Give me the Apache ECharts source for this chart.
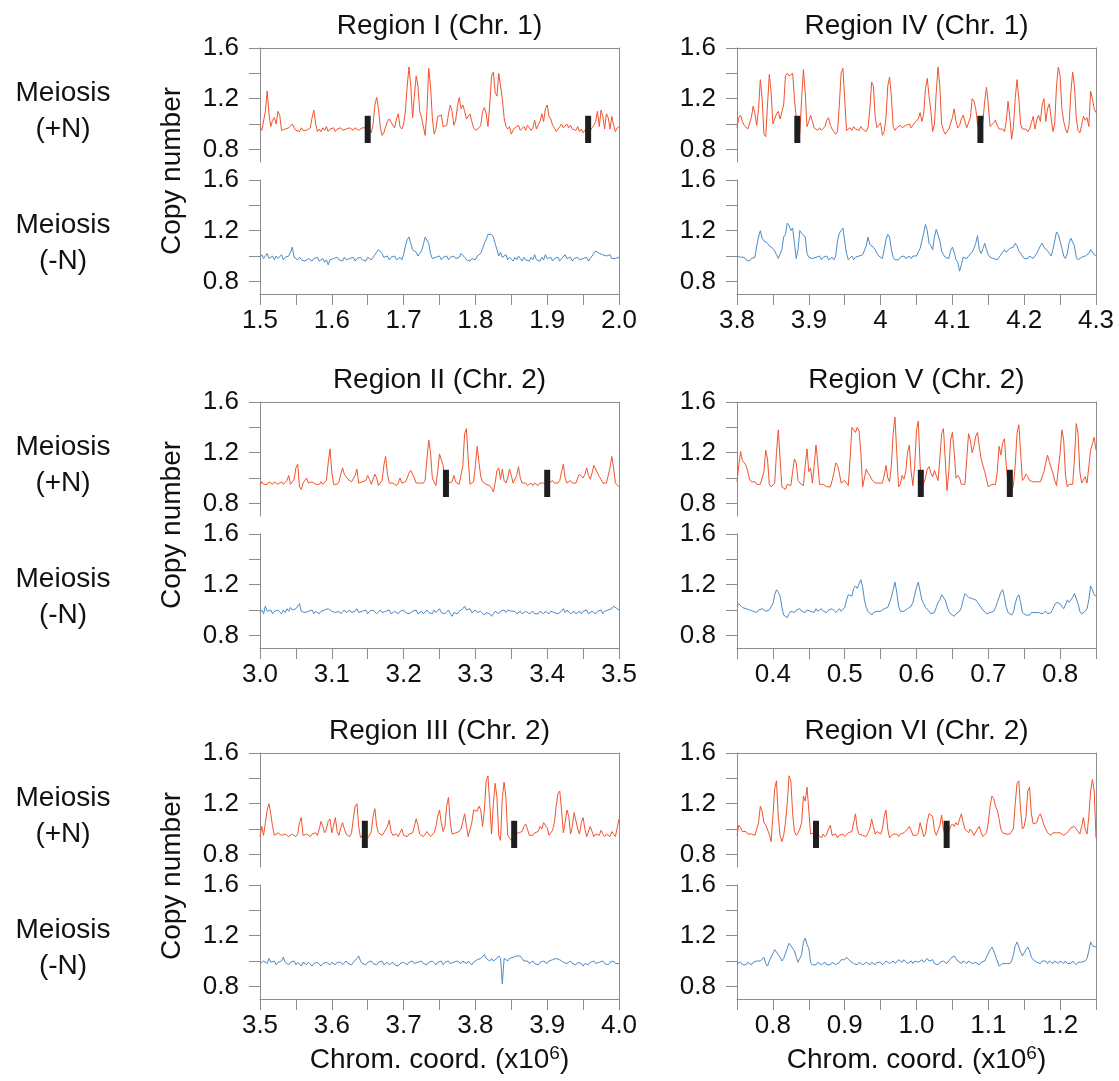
<!DOCTYPE html>
<html>
<head>
<meta charset="utf-8">
<title>Copy number</title>
<script src="https://cdn.jsdelivr.net/npm/echarts@6/dist/echarts.min.js"></script>
<style>
html, body { margin: 0; padding: 0; background: #fff; }
#chart { width: 1119px; height: 1081px; }
</style>
</head>
<body>
<div id="chart"></div>
<script>
// ---- data ----
var regionTitles = ['Region I (Chr. 1)', 'Region II (Chr. 2)', 'Region III (Chr. 2)',
                    'Region IV (Chr. 1)', 'Region V (Chr. 2)', 'Region VI (Chr. 2)'];
var regionStart = [1.5, 3.0, 3.5, 3.8, 0.35, 0.75];
var regionEnd   = [2.0, 3.5, 4.0, 4.3, 0.85, 1.25];
var xTickLabels = [
  ['1.5', '1.6', '1.7', '1.8', '1.9', '2.0'],
  ['3.0', '3.1', '3.2', '3.3', '3.4', '3.5'],
  ['3.5', '3.6', '3.7', '3.8', '3.9', '4.0'],
  ['3.8', '3.9', '4', '4.1', '4.2', '4.3'],
  ['0.4', '0.5', '0.6', '0.7', '0.8'],
  ['0.8', '0.9', '1.0', '1.1', '1.2']
];
var yTickLabels = ['0.8', '1.2', '1.6'];
var yTickValues = [0.8, 1.0, 1.2, 1.4, 1.6];
// black bars on the +N traces (x position, bottom, top)
var markerX = [[1.650, 1.957], [3.259, 3.400], [3.646, 3.854], [3.884, 4.139], [0.606, 0.730], [0.860, 1.042]];
var markerLow = 0.85, markerHigh = 1.065;

// Meiosis (+N), evenly spaced probes across each region
var plusN_I = [
0.98,0.95,0.96,1.10,1.26,1.08,0.98,1.03,1.05,1.00,
1.10,1.07,0.95,0.94,0.96,0.95,0.97,0.96,1.00,0.97,
0.95,0.96,0.94,0.97,0.95,0.96,0.95,0.94,0.97,1.05,
1.11,1.00,0.94,0.96,0.94,0.97,0.95,0.98,0.94,0.96,
0.95,0.97,0.94,0.96,0.95,0.97,0.95,0.94,0.96,0.95,
0.97,0.96,0.95,0.97,0.96,0.95,0.96,0.97,0.96,0.97,
0.98,0.96,0.93,1.00,1.15,1.21,1.12,0.98,0.91,0.93,
0.98,1.02,1.04,1.05,0.99,0.97,1.04,1.08,0.98,0.96,
1.00,1.10,1.30,1.45,1.30,1.05,1.22,1.38,1.30,1.10,
1.05,1.06,0.91,1.10,1.44,1.30,1.05,0.92,0.96,1.06,
1.07,1.07,0.98,0.97,0.99,1.08,1.15,1.10,0.99,1.03,
1.14,1.21,1.12,1.15,1.10,1.04,1.05,1.08,1.02,0.97,
0.95,0.94,0.97,0.99,1.10,1.13,1.08,0.98,1.15,1.38,
1.41,1.25,1.22,1.40,1.39,1.20,1.05,0.98,0.96,0.98,
0.92,0.95,0.97,0.96,0.99,0.95,0.96,0.98,0.95,0.99,
0.97,0.95,0.97,1.03,0.96,0.95,1.02,1.08,1.02,1.12,
1.15,1.06,1.04,0.99,0.97,0.94,0.96,0.98,1.00,0.97,
0.98,1.00,0.97,0.99,0.96,0.97,0.95,0.98,0.94,0.96,
0.93,0.95,0.93,0.94,0.95,0.97,0.99,1.02,1.10,0.98,
1.11,1.06,0.96,1.08,1.05,0.96,1.06,0.99,0.94,0.97,
0.98];
var plusN_II = [
0.94,0.97,0.95,0.96,0.95,0.97,0.96,0.95,0.97,0.96,
0.95,0.96,0.97,0.95,0.96,0.98,1.02,0.95,0.96,0.99,
1.08,1.11,0.93,0.91,0.96,0.95,1.00,0.96,0.95,0.97,
0.96,0.95,0.96,0.95,0.97,0.95,0.96,0.98,1.12,1.23,
1.05,0.95,0.96,0.95,0.97,1.03,1.08,1.03,1.02,0.99,
1.00,0.97,0.96,1.02,1.07,0.96,0.95,0.97,0.96,0.98,
1.02,0.99,0.95,0.96,1.03,1.00,0.94,0.96,0.98,1.10,
1.17,1.03,0.96,0.95,0.96,0.95,0.94,0.96,1.00,0.96,
0.95,0.97,1.00,1.04,1.06,1.07,1.00,0.96,0.95,0.96,
0.95,0.96,0.98,1.15,1.30,1.20,1.00,0.97,0.94,1.05,
1.19,1.20,1.10,0.96,0.95,0.96,0.95,0.97,1.02,0.97,
0.96,0.95,0.96,1.10,1.35,1.39,1.15,0.95,0.94,0.97,
1.10,1.25,1.12,1.01,0.97,0.96,0.95,0.96,0.94,0.92,
0.89,0.96,1.06,1.08,0.99,1.07,0.98,0.96,1.00,1.07,
1.02,0.96,0.95,1.02,1.09,1.00,0.96,0.95,0.96,0.94,
0.95,0.96,0.94,0.96,0.95,0.94,0.96,0.95,0.96,0.95,
0.94,0.96,0.97,0.98,0.96,0.95,0.96,0.98,1.05,1.11,
1.00,0.96,0.97,0.98,0.96,0.97,0.96,1.00,1.03,1.04,
1.00,1.03,1.08,1.02,0.99,1.04,1.10,1.11,1.04,1.01,
0.99,0.96,0.95,0.96,0.97,1.08,1.17,1.08,0.96,0.95,
0.93];
var plusN_III = [
0.94,1.02,0.95,1.05,1.15,1.20,1.12,1.02,0.95,0.94,
0.97,0.96,0.95,0.94,0.96,0.95,0.94,0.95,0.96,0.95,
0.94,0.96,1.05,1.09,0.95,0.94,0.96,0.95,0.94,0.96,
0.95,0.97,0.95,1.00,1.06,1.02,0.97,1.00,1.06,1.08,
0.97,1.03,1.09,0.98,0.95,1.01,1.05,1.00,0.96,0.95,
0.94,0.97,1.08,1.18,1.20,1.02,0.93,0.95,0.94,0.96,
0.93,0.95,0.98,1.10,1.16,1.02,0.97,0.96,0.95,0.97,
0.96,1.02,1.07,0.98,0.95,0.94,0.96,0.94,0.97,1.00,
0.95,0.96,0.94,0.96,0.95,0.97,1.02,1.08,1.03,0.96,
0.95,0.94,0.96,0.98,0.97,0.94,0.95,0.97,1.02,1.10,
1.15,1.05,0.98,1.02,1.18,1.25,1.05,0.96,0.95,0.97,
0.96,0.98,1.00,1.06,1.12,1.02,0.94,0.95,1.05,1.15,
1.16,1.14,1.18,1.15,1.02,1.15,1.38,1.42,1.20,0.96,
1.20,1.36,1.25,0.95,0.91,1.25,1.37,1.25,0.95,0.93,
0.91,0.93,0.96,0.95,0.97,0.96,0.98,1.02,1.04,1.00,
0.95,0.96,0.95,0.97,0.96,0.98,1.02,1.00,1.05,1.06,
1.01,0.95,0.97,0.99,1.05,1.18,1.28,1.30,1.15,0.97,
1.05,1.15,1.10,0.96,1.02,1.13,1.14,1.00,0.96,1.05,
1.09,1.00,0.94,0.95,1.02,0.98,0.94,0.96,0.97,0.95,
0.99,0.96,0.94,0.96,0.95,0.94,0.98,0.99,0.94,0.95,
1.08];
var plusN_IV = [
0.97,1.05,1.07,1.02,0.99,0.98,0.96,0.97,1.05,1.14,
1.08,0.99,1.12,1.35,1.20,0.92,0.90,1.15,1.39,1.25,
1.00,0.99,1.08,1.10,1.04,1.03,1.15,1.38,1.40,1.38,
1.39,1.40,1.20,1.05,0.95,0.92,1.20,1.43,1.25,0.98,
1.02,1.07,1.02,0.97,0.96,0.95,0.97,0.95,0.96,0.98,
1.03,1.05,0.99,0.96,0.94,0.92,0.94,1.15,1.40,1.44,
1.20,0.95,0.96,0.97,0.95,0.98,0.96,0.97,0.95,0.98,
0.96,0.95,0.94,0.97,1.12,1.33,1.30,1.05,0.97,0.99,
1.01,0.91,0.94,1.05,1.30,1.37,1.22,0.98,0.95,0.97,
0.98,0.99,0.97,0.98,0.99,0.98,1.00,0.97,0.99,1.01,
1.00,1.04,1.09,1.02,1.08,1.28,1.36,1.22,1.10,0.94,
1.00,1.25,1.45,1.30,1.00,0.95,0.92,0.94,0.96,0.95,
1.05,1.12,1.02,0.97,0.99,1.04,1.07,1.02,0.97,0.96,
1.05,1.20,1.18,1.12,1.00,0.96,0.95,1.02,1.18,1.29,
1.15,0.98,0.97,1.01,1.03,0.99,0.96,0.95,0.96,0.94,
1.02,1.18,1.05,0.88,0.98,1.20,1.35,1.20,1.00,0.96,
0.95,0.96,0.94,0.96,1.01,1.06,0.96,1.03,1.07,1.02,
1.15,1.20,1.02,1.12,1.16,1.05,0.94,1.00,1.30,1.45,
1.38,1.12,1.02,0.96,0.93,0.99,1.25,1.41,1.30,1.05,
0.95,0.93,0.99,1.06,1.03,1.05,0.98,1.26,1.20,1.12,
1.09];
var plusN_V = [
0.97,1.10,1.21,1.14,1.12,1.10,1.05,0.99,0.97,0.96,
0.97,0.95,0.94,0.95,0.94,1.05,1.22,1.15,0.95,0.93,
0.94,0.96,1.20,1.38,1.15,0.93,0.94,0.91,0.95,0.96,
0.94,1.05,1.15,1.12,0.98,0.96,0.95,0.94,1.10,1.23,
1.05,1.08,0.96,1.10,1.26,1.12,0.95,0.94,0.95,0.94,
0.93,0.94,0.93,0.98,1.04,1.12,1.10,1.04,0.96,0.95,
0.98,0.96,0.94,1.15,1.40,1.38,1.36,1.40,1.37,1.20,
0.93,1.00,1.07,1.04,1.02,0.99,0.98,0.96,0.97,0.96,
0.95,0.96,1.02,1.10,1.00,0.97,1.10,1.35,1.48,1.20,
0.93,0.95,1.02,0.99,1.05,1.20,1.26,1.05,0.94,1.10,
1.38,1.45,1.10,0.93,0.96,1.00,1.07,1.09,1.04,1.01,
1.06,1.02,0.98,1.15,1.35,1.39,1.15,0.90,1.05,1.30,
1.36,1.20,1.00,1.02,1.00,0.95,0.96,0.95,1.15,1.35,
1.30,1.20,1.25,1.33,1.36,1.25,1.15,1.10,1.05,0.99,
0.93,0.92,0.95,0.94,0.95,1.05,1.25,1.18,1.28,1.31,
1.10,0.96,0.93,0.90,0.94,1.10,1.35,1.42,1.20,0.98,
1.00,1.03,1.01,0.98,0.99,0.97,0.98,0.97,0.96,0.97,
0.98,1.05,1.12,1.18,1.13,1.08,1.04,0.98,0.94,0.95,
1.20,1.38,1.30,1.02,0.93,0.95,0.96,0.95,1.15,1.43,
1.35,1.05,0.96,0.97,1.01,0.96,0.95,1.22,1.27,1.32,
1.22];
var plusN_VI = [
0.95,1.03,1.01,0.98,0.97,0.98,0.96,0.97,0.96,0.97,
0.95,0.96,1.05,1.18,1.14,1.05,1.03,1.04,0.96,0.90,
1.10,1.32,1.38,1.10,0.95,0.90,0.95,1.05,1.20,1.42,
1.38,1.12,0.98,0.95,0.97,1.00,1.05,1.26,1.22,1.33,
1.15,0.96,0.95,0.97,0.94,0.96,0.95,0.93,0.96,0.94,
0.96,1.00,1.03,0.95,0.94,0.96,0.93,0.95,0.94,0.96,
0.94,0.95,0.97,0.96,0.98,1.05,1.12,1.00,0.96,0.97,
0.95,0.96,0.94,0.95,1.00,1.08,1.02,0.96,0.98,0.97,
0.96,1.00,1.10,1.15,1.00,0.93,0.94,0.96,0.95,0.96,
0.94,0.96,0.95,0.97,0.96,1.00,1.02,0.99,0.95,0.94,
0.95,0.97,1.05,1.00,0.94,0.96,1.06,1.12,1.11,1.10,
0.99,0.95,0.94,1.03,1.11,1.00,0.94,0.96,0.98,1.02,
1.04,1.02,1.05,1.03,1.08,1.12,1.05,1.00,0.99,0.97,
1.00,0.98,0.95,0.96,1.00,1.02,0.97,0.94,0.95,0.97,
1.05,1.18,1.26,1.24,1.18,1.15,1.08,1.00,0.97,0.98,
0.96,0.95,0.96,0.97,1.00,1.20,1.36,1.38,1.15,1.00,
1.02,1.10,1.30,1.33,1.12,1.04,1.03,1.05,1.10,1.12,
1.08,1.03,1.02,0.97,0.96,0.95,0.97,0.96,0.97,0.98,
0.97,0.96,0.95,0.96,0.97,0.99,1.01,1.00,1.02,1.00,
0.98,0.96,1.02,1.09,1.00,0.96,1.10,1.30,1.39,1.30,
0.93];

// Meiosis (-N)
var minusN_I = [
0.99,1.01,0.98,1.00,1.02,0.98,0.99,1.00,0.97,1.00,
0.98,0.99,1.01,0.97,0.99,0.98,1.00,1.03,1.07,0.99,
0.98,0.97,0.99,0.97,0.98,0.96,0.97,0.98,0.97,0.96,
0.98,0.97,0.99,0.96,0.97,0.98,0.95,0.97,0.93,0.97,
0.96,0.98,0.97,0.99,0.97,0.98,0.96,0.99,0.97,0.96,
0.98,0.97,0.99,0.96,0.98,0.97,0.99,0.97,0.98,0.96,
0.99,0.98,0.97,0.99,1.01,1.03,1.05,1.06,1.02,0.99,
0.98,1.00,0.97,0.99,0.98,1.00,0.97,0.98,0.99,0.97,
1.01,1.08,1.13,1.15,1.10,1.05,1.04,1.03,1.00,1.02,
1.04,1.09,1.15,1.16,1.10,1.02,0.98,0.97,0.99,0.98,
1.00,0.97,0.99,0.98,1.00,0.97,0.99,0.98,1.00,0.98,
0.97,0.99,1.02,1.01,0.99,0.97,0.98,0.96,0.98,0.99,
0.97,1.00,0.99,1.02,1.06,1.10,1.13,1.17,1.18,1.17,
1.15,1.10,1.05,1.00,1.03,0.99,0.98,1.01,0.97,0.99,
0.98,0.96,0.99,0.97,1.00,0.98,0.96,0.99,0.97,0.98,
0.96,0.99,0.97,1.01,0.97,0.98,0.96,0.99,0.97,1.01,
0.98,0.97,0.99,0.96,0.98,0.97,0.99,0.96,0.98,0.97,
1.01,0.98,0.97,0.99,0.96,0.98,0.97,0.99,0.97,0.96,
0.98,0.97,0.99,0.96,0.98,0.99,1.02,1.04,1.05,1.02,
1.03,1.01,1.02,1.00,0.99,1.01,0.98,0.99,0.98,0.97,
0.99];
var minusN_II = [
0.98,1.00,0.97,1.03,0.99,0.98,1.00,0.97,0.99,0.98,
1.00,0.99,0.97,1.00,0.98,1.01,0.99,1.02,1.00,0.99,
1.01,1.02,1.05,0.99,1.00,0.98,0.97,0.99,0.98,1.00,
0.97,0.99,0.98,0.97,0.99,0.98,1.00,0.99,1.01,1.02,
0.99,1.00,0.98,0.97,0.99,0.97,0.98,1.00,0.98,0.99,
1.00,0.98,0.97,0.99,1.01,0.98,0.97,0.99,0.98,1.00,
0.97,0.99,0.98,1.00,0.99,0.97,0.98,1.00,0.98,0.97,
0.99,0.98,1.00,0.97,0.98,0.99,0.98,0.97,0.99,0.98,
1.00,0.98,0.99,0.97,0.98,0.99,0.98,1.00,0.97,0.98,
0.99,0.97,0.98,1.00,0.98,0.99,0.97,1.00,0.98,0.99,
1.01,0.98,0.99,0.97,0.98,1.00,0.97,0.95,0.98,0.99,
0.97,0.99,1.00,1.01,1.03,1.00,0.99,1.01,0.98,0.99,
1.00,0.98,0.97,0.99,0.98,0.96,0.98,0.99,0.97,0.95,
0.97,0.99,0.98,0.97,0.99,0.98,1.00,0.98,1.00,1.01,
0.99,0.98,0.99,0.97,0.98,0.99,0.97,0.98,0.99,0.98,
0.97,0.98,0.99,0.97,0.98,0.97,0.99,0.98,0.97,0.99,
0.98,0.97,0.99,1.00,0.98,0.99,0.97,0.98,0.99,1.01,
0.98,1.00,0.99,0.97,0.98,0.99,0.97,0.98,0.99,0.97,
0.99,0.98,1.00,0.97,0.98,0.99,0.98,0.97,0.99,0.98,
1.00,0.97,0.99,0.98,1.00,0.99,1.01,1.03,1.02,1.01,
1.00];
var minusN_III = [
0.98,0.97,1.00,0.99,0.98,1.02,0.99,0.98,1.00,0.97,
0.99,0.98,1.00,1.03,0.99,0.98,0.97,0.99,0.98,1.00,
0.97,0.99,0.98,0.96,0.99,0.98,0.97,0.99,0.98,0.96,
0.98,0.97,0.99,0.98,0.96,0.98,0.97,0.99,0.98,0.97,
0.99,0.98,0.97,0.99,0.98,0.99,0.97,0.98,1.00,0.98,
0.99,0.97,0.99,1.00,1.02,1.04,1.00,0.98,0.99,0.97,
0.99,0.98,1.00,0.98,0.99,0.97,0.99,0.98,1.00,0.97,
0.98,0.99,0.97,0.98,0.99,0.97,0.98,0.96,0.98,0.97,
0.99,0.98,0.97,0.99,0.98,1.00,0.98,0.97,0.99,0.98,
1.00,0.98,0.99,0.97,0.99,0.98,1.00,0.99,0.97,0.99,
0.98,1.00,0.97,0.99,0.98,1.00,0.98,0.97,0.99,0.98,
1.00,0.99,0.98,1.00,0.99,0.98,1.00,0.99,0.97,0.99,
1.00,1.01,1.00,1.02,1.03,1.05,1.02,1.01,1.00,1.02,
1.00,1.01,1.02,1.04,1.02,0.82,1.02,1.01,1.00,1.02,
1.01,1.03,1.02,1.04,1.03,1.04,1.02,1.00,0.99,1.00,
0.98,0.99,1.00,0.98,0.99,0.97,0.99,0.98,1.00,0.99,
0.98,1.00,0.99,1.01,1.00,1.02,1.03,1.01,1.00,0.99,
1.00,0.98,0.99,1.00,0.98,0.99,0.97,0.99,1.00,0.98,
0.96,0.98,0.99,0.97,0.99,0.98,1.00,0.98,0.97,0.99,
0.98,1.00,0.98,0.99,0.97,0.99,0.98,1.00,0.98,0.99,
0.98];
var minusN_IV = [
1.00,1.00,0.99,0.98,0.99,0.97,0.98,0.96,0.98,0.97,
0.99,1.08,1.15,1.20,1.14,1.12,1.11,1.10,1.08,1.09,
1.06,1.04,1.01,0.98,0.97,1.05,1.15,1.17,1.26,1.24,
1.20,1.22,1.10,0.98,1.05,1.20,1.18,1.19,1.15,1.02,
0.99,1.00,0.98,0.97,0.99,0.98,1.00,0.97,0.99,0.98,
1.00,0.97,0.98,0.99,0.97,1.00,1.12,1.18,1.20,1.22,
1.12,1.02,0.97,0.98,1.00,0.97,0.99,0.98,1.00,0.99,
1.01,1.00,1.08,1.15,1.09,1.08,1.07,1.05,1.02,1.00,
0.99,0.98,1.05,1.13,1.17,1.15,1.05,0.99,0.97,0.98,
0.97,0.99,0.98,1.00,0.98,0.99,1.00,0.98,1.00,1.01,
1.00,1.03,1.06,1.12,1.18,1.25,1.20,1.10,1.08,1.05,
1.15,1.21,1.20,1.12,1.04,1.01,0.99,1.00,0.98,1.04,
1.07,1.03,0.97,0.95,0.88,0.93,0.99,1.00,0.98,1.00,
0.99,1.03,1.06,1.10,1.16,1.05,1.02,1.06,1.10,1.05,
1.01,0.99,1.00,0.98,0.99,0.97,0.99,1.00,1.03,1.05,
1.03,1.04,1.06,1.05,1.07,1.10,1.08,1.04,1.03,1.00,
0.98,0.99,0.98,1.00,0.99,0.98,1.00,1.02,1.05,1.08,
1.10,1.07,1.06,1.04,1.02,1.00,1.05,1.12,1.19,1.17,
1.12,1.06,1.00,0.98,1.02,1.10,1.14,1.13,1.08,0.99,
0.97,0.98,0.99,0.98,1.00,0.99,1.02,1.05,1.04,1.01,
1.00];
var minusN_V = [
1.03,1.05,1.04,1.02,1.03,1.01,1.02,1.00,1.01,0.99,
1.00,0.98,1.00,0.99,1.01,1.00,0.99,0.98,1.00,0.99,
1.05,1.12,1.16,1.14,1.11,1.02,0.96,0.95,0.94,0.97,
0.99,1.00,0.98,1.00,0.99,1.01,0.99,1.00,0.98,1.00,
1.01,0.99,1.00,0.98,1.01,0.99,1.00,1.01,0.99,1.00,
0.98,1.00,0.99,1.01,1.00,0.98,0.99,1.01,0.99,0.98,
1.02,1.08,1.12,1.13,1.11,1.17,1.19,1.17,1.18,1.24,
1.18,1.08,1.02,0.99,0.98,0.96,0.98,0.97,0.99,0.98,
0.99,1.00,1.01,1.00,1.02,1.06,1.10,1.16,1.22,1.14,
1.03,0.99,0.98,0.99,1.00,1.01,1.02,1.03,1.06,1.12,
1.18,1.22,1.15,1.08,1.05,1.02,1.01,0.99,0.97,0.96,
0.98,1.02,1.06,1.08,1.12,1.13,1.08,1.03,0.99,0.97,
0.96,0.95,0.97,0.98,0.99,1.02,1.08,1.13,1.12,1.10,
1.11,1.09,1.10,1.08,1.06,1.04,1.02,1.00,0.99,0.97,
0.96,0.98,0.97,0.99,1.02,1.06,1.10,1.14,1.16,1.10,
1.02,0.98,0.97,0.96,0.98,1.05,1.10,1.12,1.06,0.98,
0.97,0.96,0.97,0.96,0.98,0.97,0.98,0.97,0.98,0.99,
0.97,0.98,0.99,0.97,0.96,0.98,1.01,1.04,1.06,1.07,
1.05,1.03,1.01,1.04,1.08,1.06,1.07,1.10,1.13,1.12,
1.05,0.99,0.97,0.98,0.99,1.01,1.08,1.19,1.16,1.12,
1.11];
var minusN_VI = [
0.98,0.97,0.99,0.97,0.98,0.97,0.99,0.98,0.97,0.99,
0.98,1.00,0.99,1.00,0.99,1.03,0.98,0.96,1.00,1.03,
1.06,1.09,1.07,1.05,1.03,1.00,1.02,1.06,1.10,1.14,
1.12,1.13,1.08,1.03,0.99,0.99,1.05,1.15,1.18,1.13,
1.10,0.99,0.97,0.98,0.97,0.99,0.98,0.97,0.98,0.99,
0.97,0.98,0.97,0.99,0.98,0.97,0.98,0.99,1.01,1.02,
1.01,1.03,1.02,1.00,0.99,0.98,0.99,0.97,0.99,0.98,
0.97,0.98,0.99,0.98,0.97,0.99,0.98,0.97,0.99,0.98,
0.99,0.97,0.98,1.00,0.99,0.98,0.99,1.00,0.98,0.99,
1.01,1.00,0.99,1.01,1.00,0.98,0.99,1.00,0.98,1.00,
1.01,0.99,1.00,1.01,0.99,1.00,1.02,1.00,0.99,1.01,
0.98,0.99,0.97,0.99,0.98,1.00,0.99,0.98,1.00,1.02,
1.01,1.04,1.02,1.00,0.99,0.98,1.00,0.99,0.98,1.00,
0.99,0.98,0.97,0.99,0.98,0.97,0.99,0.98,1.00,1.03,
1.06,1.09,1.11,1.08,1.04,1.00,0.96,0.97,0.98,0.97,
0.98,0.99,0.98,1.00,1.05,1.12,1.15,1.14,1.07,1.04,
1.05,1.09,1.11,1.08,1.03,1.01,1.00,0.99,1.00,0.98,
1.00,0.99,1.00,0.98,1.00,0.99,0.98,1.00,0.99,0.98,
1.00,0.99,0.98,1.00,0.98,0.99,0.98,1.00,0.99,0.97,
0.99,0.98,0.99,0.98,1.00,1.02,1.08,1.15,1.12,1.11,
1.11];

var plusN = [plusN_I, plusN_II, plusN_III, plusN_IV, plusN_V, plusN_VI];
var minusN = [minusN_I, minusN_II, minusN_III, minusN_IV, minusN_V, minusN_VI];

// ---- layout ----
var colLeft = [260, 737];
var rowTop = [48, 402, 753];
var plotW = 359, subH = 114, subGap = 18;
var axisGray = '#8c8c8c';
var textColor = '#111';
var fontFamily = 'Liberation Sans, Arial, Helvetica, sans-serif';
var redColor = '#f2532f';
var blueColor = '#4b8bc8';

function toPoints(values, start, end) {
  var step = (end - start) / (values.length - 1);
  return values.map(function (v, i) { return [start + i * step, v]; });
}

function labelFormatter(list) {
  return function (v) {
    for (var k = 0; k < list.length; k++) {
      if (Math.abs(Number(list[k]) - v) < 1e-6) return list[k];
    }
    return '';
  };
}

function halfTicks(start, end) {
  var out = [];
  for (var k = 0; start + k * 0.05 <= end + 1e-9; k++) out.push(+(start + k * 0.05).toFixed(3));
  return out;
}

function yAxisFor(gi) {
  return {
    gridIndex: gi, type: 'value', min: 0.7, max: 1.6,
    axisLine: { show: true, onZero: false, lineStyle: { color: axisGray, width: 1 } },
    axisTick: { show: true, length: 11, customValues: yTickValues.slice(), lineStyle: { color: axisGray } },
    axisLabel: {
      customValues: yTickLabels.map(Number),
      formatter: function (v) { return v.toFixed(1); },
      margin: 21, fontSize: 26, color: textColor, fontFamily: fontFamily
    },
    splitLine: { show: false }
  };
}

function buildOption() {
  var grids = [], xAxes = [], yAxes = [], series = [], graphics = [];

  for (var p = 0; p < 6; p++) {
    var col = Math.floor(p / 3), row = p % 3;
    var panelLeft = colLeft[col], panelTop = rowTop[row];
    var base = grids.length;
    var xs = regionStart[p], xe = regionEnd[p];

    // frame: top border and right border
    grids.push({ left: panelLeft, top: panelTop, width: plotW, height: 2 * subH + subGap, outerBoundsMode: 'none' });
    xAxes.push({
      gridIndex: base, type: 'value', position: 'top', min: 0, max: 1,
      axisLine: { show: true, onZero: false, lineStyle: { color: axisGray } },
      axisTick: { show: false }, axisLabel: { show: false }, splitLine: { show: false }
    });
    yAxes.push({
      gridIndex: base, type: 'value', position: 'right', min: 0, max: 1,
      axisLine: { show: true, onZero: false, lineStyle: { color: axisGray } },
      axisTick: { show: false }, axisLabel: { show: false }, splitLine: { show: false }
    });

    // upper panel: Meiosis (+N)
    grids.push({ left: panelLeft, top: panelTop, width: plotW, height: subH, outerBoundsMode: 'none' });
    xAxes.push({ gridIndex: base + 1, type: 'value', min: xs, max: xe, show: false });
    yAxes.push(yAxisFor(base + 1));

    // lower panel: Meiosis (-N)
    grids.push({ left: panelLeft, top: panelTop + subH + subGap, width: plotW, height: subH, outerBoundsMode: 'none' });
    xAxes.push({
      gridIndex: base + 2, type: 'value', min: xs, max: xe, position: 'bottom',
      axisLine: { show: true, onZero: false, lineStyle: { color: axisGray } },
      axisTick: { show: true, length: 11, customValues: halfTicks(xs, xe), lineStyle: { color: axisGray } },
      axisLabel: {
        customValues: xTickLabels[p].map(Number),
        formatter: labelFormatter(xTickLabels[p]),
        margin: 14, fontSize: 26, color: textColor, fontFamily: fontFamily
      },
      splitLine: { show: false }
    });
    yAxes.push(yAxisFor(base + 2));

    series.push({
      type: 'line', xAxisIndex: base + 1, yAxisIndex: base + 1,
      data: toPoints(plusN[p], xs, xe), showSymbol: false, symbol: 'none',
      lineStyle: { color: redColor, width: 1 }, silent: true, z: 2
    });
    series.push({
      type: 'line', xAxisIndex: base + 2, yAxisIndex: base + 2,
      data: toPoints(minusN[p], xs, xe), showSymbol: false, symbol: 'none',
      lineStyle: { color: blueColor, width: 1 }, silent: true, z: 2
    });
    series.push({
      type: 'custom', xAxisIndex: base + 1, yAxisIndex: base + 1,
      data: markerX[p].map(function (x) { return [x, markerLow, markerHigh]; }),
      silent: true, z: 5,
      renderItem: function (params, api) {
        var hi = api.coord([api.value(0), api.value(2)]);
        var lo = api.coord([api.value(0), api.value(1)]);
        return {
          type: 'rect',
          shape: { x: hi[0] - 3, y: hi[1], width: 6, height: lo[1] - hi[1] },
          style: { fill: '#1e1e1e' }
        };
      }
    });

    // region title
    graphics.push({
      type: 'text', x: panelLeft + plotW / 2, y: panelTop - 22,
      style: { text: regionTitles[p], fontSize: 28, fontFamily: fontFamily, fill: textColor,
               align: 'center', verticalAlign: 'middle' }
    });

    if (col === 0) {
      graphics.push({
        type: 'text', x: 63, y: panelTop + subH / 2 + 6,
        style: { text: 'Meiosis\n(+N)', fontSize: 28, lineHeight: 36, fontFamily: fontFamily,
                 fill: textColor, align: 'center', verticalAlign: 'middle' }
      });
      graphics.push({
        type: 'text', x: 63, y: panelTop + subH + subGap + subH / 2 + 6,
        style: { text: 'Meiosis\n(-N)', fontSize: 28, lineHeight: 36, fontFamily: fontFamily,
                 fill: textColor, align: 'center', verticalAlign: 'middle' }
      });
      graphics.push({
        type: 'text', x: 172, y: panelTop + subH + subGap / 2, rotation: Math.PI / 2,
        style: { text: 'Copy number', fontSize: 28, fontFamily: fontFamily, fill: textColor,
                 align: 'center', verticalAlign: 'middle' }
      });
    }

    if (row === 2) {
      graphics.push({
        type: 'text', x: panelLeft + plotW / 2, y: 1060,
        style: {
          text: '{a|Chrom. coord. (x10}{s|6}{a|)}',
          align: 'center', verticalAlign: 'middle',
          rich: {
            a: { fontSize: 28, lineHeight: 32, fontFamily: fontFamily, fill: textColor },
            s: { fontSize: 19, lineHeight: 19, fontFamily: fontFamily, fill: textColor, verticalAlign: 'top' }
          }
        }
      });
    }
  }

  return {
    backgroundColor: '#fff',
    animation: false,
    grid: grids,
    xAxis: xAxes,
    yAxis: yAxes,
    series: series,
    graphic: graphics
  };
}

var chart = echarts.init(document.getElementById('chart'), null, { renderer: 'canvas' });
chart.setOption(buildOption());
</script>
</body>
</html>
